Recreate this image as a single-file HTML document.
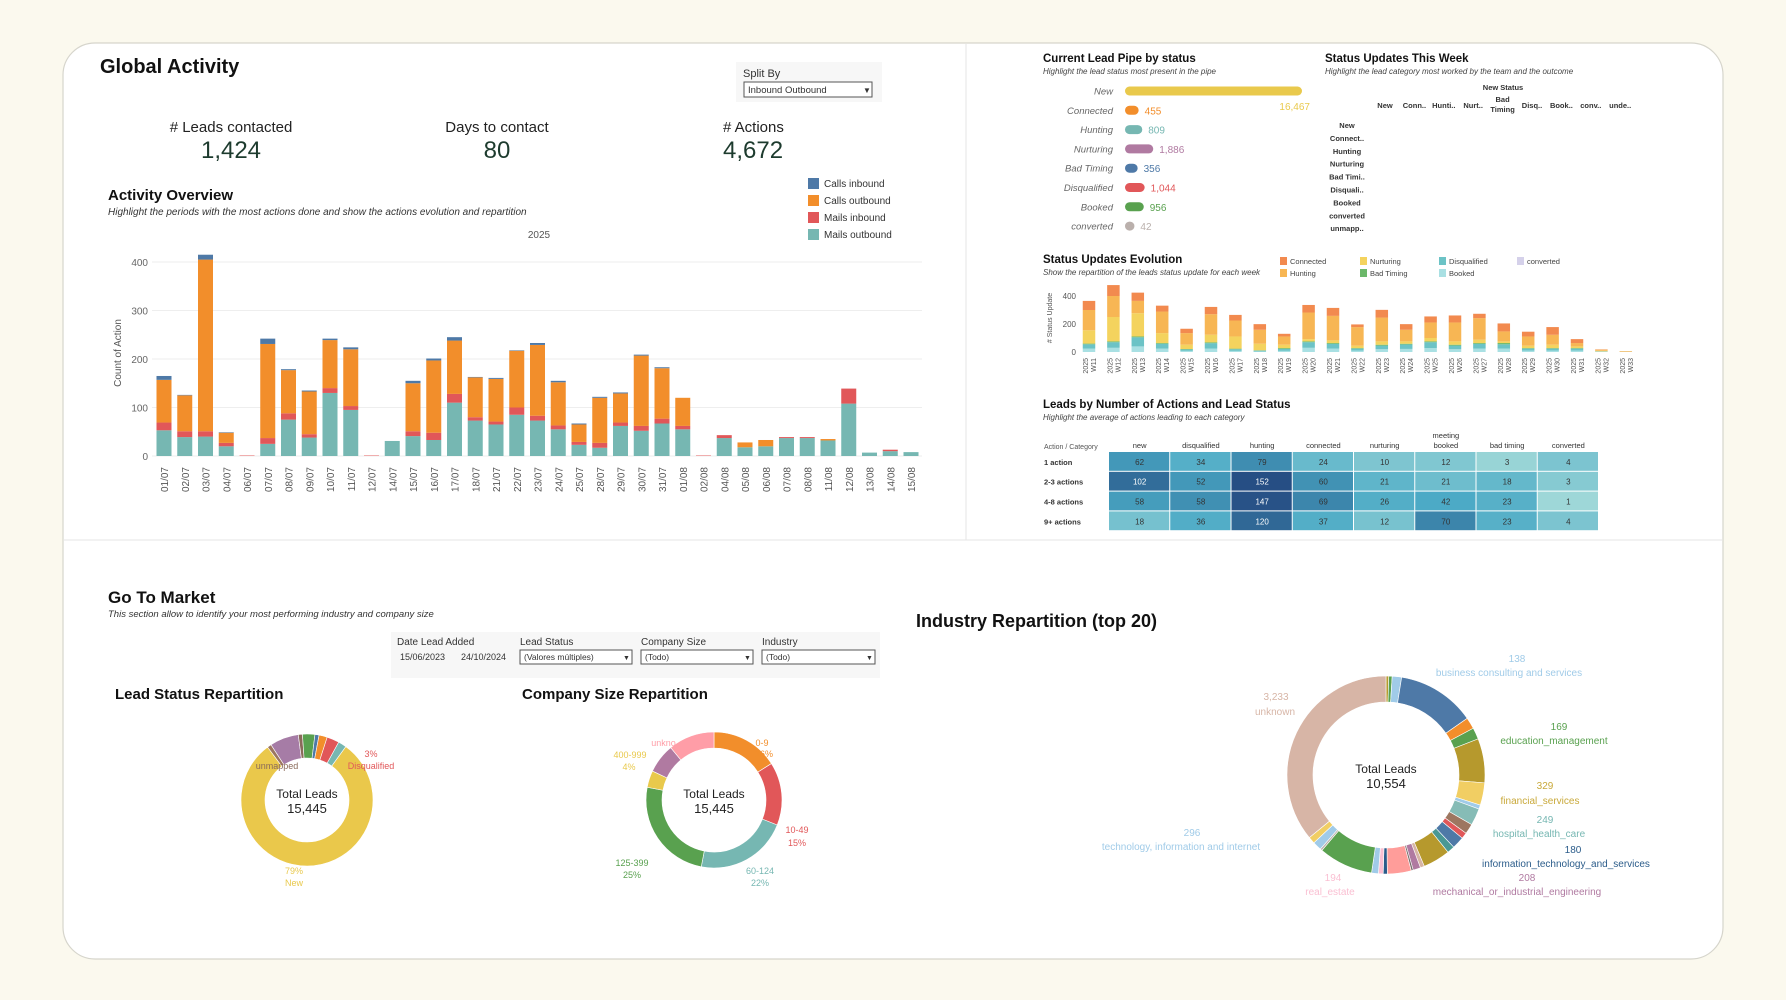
<!DOCTYPE html>
<html><head><meta charset="utf-8">
<style>
html,body{margin:0;padding:0;background:#fbf9ee;}
svg{display:block;font-family:"Liberation Sans",sans-serif;}
</style></head>
<body>
<svg id="root" width="1786" height="1000" viewBox="0 0 1786 1000" xmlns="http://www.w3.org/2000/svg">
<rect x="0" y="0" width="1786" height="1000" fill="#fbf9ee"/>
<rect x="63" y="43" width="1660" height="916" rx="32" fill="#ffffff" stroke="#d6d5cc" stroke-width="1.2"/>
<line x1="966" y1="44" x2="966" y2="540" stroke="#e6e6e6"/>
<line x1="64" y1="540" x2="1722" y2="540" stroke="#e6e6e6"/>

<text x="100" y="73" font-size="20" font-weight="bold" fill="#111">Global Activity</text>
<g>
<rect x="736" y="62" width="146" height="40" fill="#f7f7f7"/>
<text x="743" y="77" font-size="11" fill="#333">Split By</text>
<rect x="744" y="82" width="128" height="15" fill="#fff" stroke="#555"/>
<text x="748" y="93" font-size="9.5" fill="#333">Inbound Outbound</text>
<text x="863" y="93" font-size="8" fill="#333">▼</text>
</g>
<g>
<text x="231" y="132" font-size="15" text-anchor="middle" fill="#222"># Leads contacted</text>
<text x="231" y="158" font-size="24" text-anchor="middle" fill="#1d3b2e">1,424</text>
</g>
<g>
<text x="497" y="132" font-size="15" text-anchor="middle" fill="#222">Days to contact</text>
<text x="497" y="158" font-size="24" text-anchor="middle" fill="#1d3b2e">80</text>
</g>
<g>
<text x="723" y="132" font-size="15" fill="#222"># Actions</text>
<text x="723" y="158" font-size="24" fill="#1d3b2e">4,672</text>
</g>
<text x="108" y="200" font-size="15" font-weight="bold" fill="#111">Activity Overview</text>
<text x="108" y="215" font-size="10" font-style="italic" fill="#333">Highlight the periods with the most actions done and show the actions evolution and repartition</text>
<text x="539" y="238" font-size="10" text-anchor="middle" fill="#555">2025</text>
<g id="activity"></g>
<g id="activityLegend"></g>

<text x="1043" y="62" font-size="11.5" font-weight="bold" fill="#111">Current Lead Pipe by status</text>
<text x="1043" y="74" font-size="8" font-style="italic" fill="#444">Highlight the lead status most present in the pipe</text>
<g id="pipe"></g>
<text x="1325" y="62" font-size="11.5" font-weight="bold" fill="#111">Status Updates This Week</text>
<text x="1325" y="74" font-size="8" font-style="italic" fill="#444">Highlight the lead category most worked by the team and the outcome</text>
<g id="weekTable"></g>

<text x="1043" y="263" font-size="11.5" font-weight="bold" fill="#111">Status Updates Evolution</text>
<text x="1043" y="275" font-size="8" font-style="italic" fill="#444">Show the repartition of the leads status update for each week</text>
<g id="evoLegend"></g>
<g id="evo"></g>

<text x="1043" y="408" font-size="11.5" font-weight="bold" fill="#111">Leads by Number of Actions and Lead Status</text>
<text x="1043" y="420" font-size="8" font-style="italic" fill="#444">Highlight the average of actions leading to each category</text>
<g id="heat"></g>

<text x="108" y="603" font-size="17" font-weight="bold" fill="#111">Go To Market</text>
<text x="108" y="617" font-size="9.5" font-style="italic" fill="#333">This section allow to identify your most performing industry and company size</text>
<g>
<rect x="391" y="632" width="489" height="46" fill="#f7f7f7"/>
<text x="397" y="645" font-size="10" fill="#333">Date Lead Added</text>
<text x="400" y="660" font-size="9" fill="#333">15/06/2023</text>
<text x="461" y="660" font-size="9" fill="#333">24/10/2024</text>
<text x="520" y="645" font-size="10" fill="#333">Lead Status</text>
<rect x="520" y="650" width="112" height="14" fill="#fff" stroke="#555"/>
<text x="524" y="660" font-size="8.5" fill="#333">(Valores múltiples)</text>
<text x="623" y="660" font-size="7" fill="#333">▼</text>
<text x="641" y="645" font-size="10" fill="#333">Company Size</text>
<rect x="641" y="650" width="112" height="14" fill="#fff" stroke="#555"/>
<text x="645" y="660" font-size="8.5" fill="#333">(Todo)</text>
<text x="744" y="660" font-size="7" fill="#333">▼</text>
<text x="762" y="645" font-size="10" fill="#333">Industry</text>
<rect x="762" y="650" width="113" height="14" fill="#fff" stroke="#555"/>
<text x="766" y="660" font-size="8.5" fill="#333">(Todo)</text>
<text x="866" y="660" font-size="7" fill="#333">▼</text>
</g>
<text x="115" y="699" font-size="15" font-weight="bold" fill="#111">Lead Status Repartition</text>
<text x="522" y="699" font-size="15" font-weight="bold" fill="#111">Company Size Repartition</text>
<text x="916" y="627" font-size="18" font-weight="bold" fill="#111">Industry Repartition (top 20)</text>
<g id="donut1"></g>
<g id="donut2"></g>
<g id="donut3"></g>
</svg>

<script>
const actDates = ["01/07","02/07","03/07","04/07","06/07","07/07","08/07","09/07","10/07","11/07","12/07","14/07","15/07","16/07","17/07","18/07","21/07","22/07","23/07","24/07","25/07","28/07","29/07","30/07","31/07","01/08","02/08","04/08","05/08","06/08","07/08","08/08","11/08","12/08","13/08","14/08","15/08"];
const mailsOutbound = [53,39,40,20,0,25,75,38,130,95,0,31,41,33,110,73,65,85,73,55,23,17,62,52,67,55,0,37,18,20,37,37,32,108,7,10,8];
const mailsInbound  = [16,12,11,7,1,12,13,7,10,8,1,0,10,15,18,7,6,15,10,8,6,10,7,10,10,7,1,6,0,0,2,2,0,31,0,3,0];
const callsOutbound = [88,74,354,21,0,194,89,88,99,117,0,0,99,149,110,82,88,117,146,89,36,93,60,145,104,58,0,0,10,13,0,0,3,0,0,0,0];
const callsInbound  = [8,1,10,1,0,11,2,2,3,4,0,0,5,4,7,1,2,1,4,3,2,2,2,2,2,0,0,0,0,0,0,0,0,0,0,0,0];
const actTicks = [0,100,200,300,400];
const actSeriesNames = ["Calls inbound","Calls outbound","Mails inbound","Mails outbound"];

const pipeStatus = ["New","Connected","Hunting","Nurturing","Bad Timing","Disqualified","Booked","converted"];
const pipeValues = [16467,455,809,1886,356,1044,956,42];
const pipeLabels = ["16,467","455","809","1,886","356","1,044","956","42"];

const weekCols = ["New","Conn..","Hunti..","Nurt..","Bad Timing","Disq..","Book..","conv..","unde.."];
const weekRows = ["New","Connect..","Hunting","Nurturing","Bad Timi..","Disquali..","Booked","converted","unmapp.."];

const weeks = ["W11","W12","W13","W14","W15","W16","W17","W18","W19","W20","W21","W22","W23","W24","W25","W26","W27","W28","W29","W30","W31","W32","W33"];
const evoBooked       = [25,30,40,25,8,25,8,4,8,30,25,10,20,22,28,20,25,25,10,10,10,2,0];
const evoDisqualified = [30,40,65,34,10,38,12,6,14,40,33,14,26,32,42,26,33,30,14,14,14,2,1];
const evoBadTiming    = [5,6,6,5,3,6,4,2,6,6,6,4,6,5,6,6,6,9,4,4,4,1,0];
const evoNurturing    = [95,174,166,71,31,54,87,47,24,16,19,17,24,17,24,24,24,12,17,24,12,4,2];
const evoHunting      = [145,150,88,154,83,147,114,100,59,190,175,133,170,83,111,135,154,71,66,71,24,8,3];
const evoConnected    = [65,78,59,42,31,52,40,40,19,54,57,19,55,40,43,50,31,57,34,55,28,2,1];
const evoConverted    = [0,0,0,0,0,0,0,0,0,0,0,0,0,0,0,0,0,0,0,0,0,0,0];
const evoTicks = [0,200,400];

const heatRows = ["1 action","2-3 actions","4-8 actions","9+ actions"];
const heatCols = ["new","disqualified","hunting","connected","nurturing","meeting booked","bad timing","converted"];
const heatR1 = [62,34,79,24,10,12,3,4];
const heatR2 = [102,52,152,60,21,21,18,3];
const heatR3 = [58,58,147,69,26,42,23,1];
const heatR4 = [18,36,120,37,12,70,23,4];

const leadStatusNames = ["New","unmapped","Nurturing","Bad Timing","Booked","Calls","Connected","Disqualified","Hunting"];
const leadStatusValues = [79,1,7,1,3,1,2,3,2];
const companySizeNames = ["0-9","10-49","60-124","125-399","400-999","1000+","unknown"];
const companySizeValues = [16,15,22,25,4,7,11];
const industryNames = ["i1","i2","business consulting and services","i4","i5","education_management","i7","financial_services","i9","hospital_health_care","i11","i12","information_technology_and_services","i14","mechanical_or_industrial_engineering","i16","i17","i18","real_estate","i20","i21","i22","technology, information and internet","i24","i25","i26","unknown"];
const industryValues = [40,50,138,1150,169,169,650,329,60,249,150,90,180,110,400,60,110,30,350,60,70,100,800,30,130,100,3233];

const NS = "http://www.w3.org/2000/svg";
function mk(tag, attrs, parent){ const e=document.createElementNS(NS,tag); for(const k in attrs) e.setAttribute(k,attrs[k]); parent.appendChild(e); return e; }

(function(){
  const g=document.getElementById('activity');
  const y0=456, yk=0.485, x0=164, step=20.75, bw=15;
  const yS=v=>y0-v*yk, xS=i=>x0+i*step;
  actTicks.forEach(t=>{
    const l=mk('line',{x1:152,x2:922,y1:yS(t),y2:yS(t),stroke:'#eeeeee'},g);
    
    
    const tx=mk('text',{x:148,y:yS(t)+4,'font-size':10,'text-anchor':'end',fill:'#666'},g);
    tx.textContent=t;
    
    
  });
  const yl=mk('text',{x:0,y:0,'font-size':10,'text-anchor':'middle',fill:'#555',transform:'translate(121,353) rotate(-90)'},g);
  yl.textContent='Count of Action';
  
  
  const series=[mailsOutbound,mailsInbound,callsOutbound,callsInbound];
  const cols=['#76b7b2','#e15759','#f28e2b','#4e79a7'];
  actDates.forEach((d,i)=>{
    let acc=0;
    series.forEach((s,k)=>{
      const v=s[i]; if(!v) return;
      const r=mk('rect',{x:xS(i)-bw/2,y:yS(acc+v),width:bw,height:v*yk,fill:cols[k]},g);
      
      
      acc+=v;
    });
    const t=mk('text',{x:0,y:0,'font-size':10,'text-anchor':'end',fill:'#555',transform:`translate(${xS(i)+4},467) rotate(-90)`},g);
    t.textContent=d;
    
    
  });
  const lg=document.getElementById('activityLegend');
  const lc=['#4e79a7','#f28e2b','#e15759','#76b7b2'];
  actSeriesNames.forEach((n,i)=>{
    const r=mk('rect',{x:808,y:178+i*17,width:11,height:11,fill:lc[i]},lg);
    
    
    const t=mk('text',{x:824,y:187+i*17,'font-size':10,fill:'#333'},lg);
    t.textContent=n;
    
    
  });
})();

(function(){
  const g=document.getElementById('pipe');
  const cols=['#e9c94c','#f28e2b','#76b7b2','#b07aa1','#4e79a7','#e15759','#59a14f','#bab0ac'];
  const h=9, x0=1125, maxW=177, sc=(maxW-h)/Math.max(...pipeValues);
  pipeStatus.forEach((s,i)=>{
    const y=91+i*19.3;
    const t=mk('text',{x:1113,y:y+3.5,'font-size':9.5,'font-style':'italic','text-anchor':'end',fill:'#666'},g);
    t.textContent=s;
    
    
    const w=h+pipeValues[i]*sc;
    const r=mk('rect',{x:x0,y:y-h/2,width:w,height:h,rx:h/2,fill:cols[i]},g);
    
    
    const vl = i===0 ? mk('text',{x:x0+w+8,y:y+19,'font-size':10,'text-anchor':'end',fill:cols[i]},g)
                     : mk('text',{x:x0+w+6,y:y+4,'font-size':10,fill:cols[i]},g);
    vl.textContent=pipeLabels[i];
    
    
  });
})();

(function(){
  const g=document.getElementById('weekTable');
  const hd=mk('text',{x:1503,y:90,'font-size':7.5,'font-weight':'bold','text-anchor':'middle',fill:'#333'},g);
  hd.textContent='New Status';
  
  
  weekCols.forEach((c,i)=>{
    const x=1385+i*29.4;
    if(c==='Bad Timing'){
      ['Bad','Timing'].forEach((p,k)=>{
        const t=mk('text',{x:x,y:102+k*10,'font-size':7.5,'font-weight':'bold','text-anchor':'middle',fill:'#333'},g);
        t.textContent=p;
        
        
      });
    } else {
      const t=mk('text',{x:x,y:108,'font-size':7.5,'font-weight':'bold','text-anchor':'middle',fill:'#333'},g);
      t.textContent=c;
      
      
    }
  });
  weekRows.forEach((r,i)=>{
    const t=mk('text',{x:1347,y:128+i*12.9,'font-size':7.5,'font-weight':'bold','text-anchor':'middle',fill:'#333'},g);
    t.textContent=r;
    
    
  });
})();

(function(){
  const g=document.getElementById('evo');
  const y0=352, yk=0.14, x0=1089, step=24.4, bw=12.5;
  const yS=v=>y0-v*yk, xS=i=>x0+i*step;
  evoTicks.forEach(t=>{
    const tx=mk('text',{x:1076,y:yS(t)+3,'font-size':8,'text-anchor':'end',fill:'#555'},g);
    tx.textContent=t;
    
    
  });
  const yl=mk('text',{x:0,y:0,'font-size':7,'text-anchor':'middle',fill:'#555',transform:'translate(1052,318) rotate(-90)'},g);
  yl.textContent='# Status Update';
  
  
  const series=[evoBooked,evoDisqualified,evoBadTiming,evoNurturing,evoHunting,evoConnected,evoConverted];
  const cols=['#a9e0e3','#6cc3c6','#6cb86a','#f4d35e','#f7b654','#f28a4f','#d5d1ea'];
  weeks.forEach((w,i)=>{
    let acc=0;
    series.forEach((s,k)=>{
      const v=s[i]; if(!v) return;
      const r=mk('rect',{x:xS(i)-bw/2,y:yS(acc+v),width:bw,height:v*yk,fill:cols[k]},g);
      
      
      acc+=v;
    });
    const t=mk('text',{x:0,y:0,'font-size':7,'text-anchor':'end',fill:'#555',transform:`translate(${xS(i)-1},358) rotate(-90)`},g);
    t.textContent='2025';
    
    
    const t2=mk('text',{x:0,y:0,'font-size':7,'text-anchor':'end',fill:'#555',transform:`translate(${xS(i)+7},358) rotate(-90)`},g);
    t2.textContent=w;
    
    
  });
  const lg=document.getElementById('evoLegend');
  const names=[["Connected",'#f28a4f'],["Hunting",'#f7b654'],["Nurturing",'#f4d35e'],["Bad Timing",'#6cb86a'],["Disqualified",'#6cc3c6'],["Booked",'#a9e0e3'],["converted",'#d5d1ea']];
  const lx=[1280,1360,1439,1517];
  names.forEach((n,i)=>{
    const col=Math.floor(i/2), row=i%2;
    const r=mk('rect',{x:lx[col],y:257+row*12,width:7,height:8,fill:n[1]},lg);
    
    
    const t=mk('text',{x:lx[col]+10,y:264+row*12,'font-size':7.5,fill:'#444'},lg);
    t.textContent=n[0];
    
    
  });
})();

(function(){
  const g=document.getElementById('heat');
  const data=[heatR1,heatR2,heatR3,heatR4];
  const x0=1109, cw=61.25, y0=452, rh=19.8;
  const colMax=heatCols.map((c,j)=>Math.max(...data.map(r=>r[j])));
  const gMax=Math.max(...data.flat());
  const lerp=(a,b,t)=>a.map((v,i)=>Math.round(v+(b[i]-v)*t));
  const L=[178,226,220], M=[74,169,197], D=[38,78,132];
  function color(t){ const c = t<0.55? lerp(L,M,t/0.55) : lerp(M,D,(t-0.55)/0.45); return `rgb(${c[0]},${c[1]},${c[2]})`; }
  const ac=mk('text',{x:1044,y:449,'font-size':7,fill:'#555'},g);
  ac.textContent='Action / Category';
  
  
  heatCols.forEach((c,j)=>{
    const cx=x0+cw*(j+0.5);
    if(c==='meeting booked'){
      ['meeting','booked'].forEach((p,k)=>{
        const t=mk('text',{x:cx,y:438+k*10,'font-size':7.5,'text-anchor':'middle',fill:'#333'},g);
        t.textContent=p;
        
        
      });
    } else {
      const t=mk('text',{x:cx,y:448,'font-size':7.5,'text-anchor':'middle',fill:'#333'},g);
      t.textContent=c;
      
      
    }
  });
  data.forEach((row,i)=>{
    const rl=mk('text',{x:1044,y:y0+rh*i+rh/2+3,'font-size':7.5,'font-weight':'bold',fill:'#333'},g);
    rl.textContent=heatRows[i];
    
    
    row.forEach((v,j)=>{
      const t=Math.min(1,0.85*Math.sqrt(v/gMax)+0.15*v/colMax[j]);
      const r=mk('rect',{x:x0+cw*j,y:y0+rh*i,width:cw-1,height:rh-1,fill:color(t)},g);
      
      
      const tx=mk('text',{x:x0+cw*j+cw/2,y:y0+rh*i+rh/2+3,'font-size':8,'text-anchor':'middle',fill:t>0.8?'#fff':'#333'},g);
      tx.textContent=v;
      
      
    });
  });
})();

function arcPath(cx,cy,ro,ri,a0,a1){
  const p=(r,a)=>[cx+r*Math.sin(a*Math.PI/180), cy-r*Math.cos(a*Math.PI/180)];
  const lg=(a1-a0)>180?1:0;
  const [x1,y1]=p(ro,a0),[x2,y2]=p(ro,a1),[x3,y3]=p(ri,a1),[x4,y4]=p(ri,a0);
  return `M${x1},${y1}A${ro},${ro} 0 ${lg} 1 ${x2},${y2}L${x3},${y3}A${ri},${ri} 0 ${lg} 0 ${x4},${y4}Z`;
}
function donut(id,cx,cy,ro,ri,values,colors,start,name,total){
  const g=document.getElementById(id);
  const sum=values.reduce((a,b)=>a+b,0);
  let a=start;
  values.forEach((v,i)=>{
    const da=v/sum*360;
    const p=mk('path',{d:arcPath(cx,cy,ro,ri,a,a+da),fill:colors[i],stroke:'#fff','stroke-width':0.6},g);
    
    
    a+=da;
  });
  const t1=mk('text',{x:cx,y:cy-2,'font-size':12,'text-anchor':'middle',fill:'#222'},g);
  t1.textContent='Total Leads';
  
  
  const t2=mk('text',{x:cx,y:cy+13,'font-size':13,'text-anchor':'middle',fill:'#222'},g);
  t2.textContent=total;
  
  
  return g;
}
function label(g,x,y,txt,col,size,name){
  const t=mk('text',{x:x,y:y,'font-size':size||9,'text-anchor':'middle',fill:col},g);
  t.textContent=txt;
  
  
}
(function(){
  const g1=donut('donut1',307,800,66,42,leadStatusValues,['#eac84b','#9d7660','#a67ca6','#8a6a5a','#59a14f','#4e79a7','#f28e2b','#e15759','#76b7b2'],36,'lead-status','15,445');
  label(g1,371,757,'3%','#e15759',9,'slice-label');
  label(g1,371,769,'Disqualified','#e15759',9,'slice-label');
  label(g1,277,769,'unmapped','#8a6a5a',9,'slice-label');
  label(g1,294,874,'79%','#e9c94c',9,'slice-label');
  label(g1,294,886,'New','#e9c94c',9,'slice-label');

  const g2=donut('donut2',714,800,68,52,companySizeValues,['#f28e2b','#e15759','#76b7b2','#59a14f','#e9c94c','#b07aa1','#ff9da7'],0,'company-size','15,445');
  label(g2,762,746,'0-9','#f28e2b',9,'slice-label');
  label(g2,764,757,'16%','#f28e2b',9,'slice-label');
  label(g2,666,746,'unkno..','#ff9da7',9,'slice-label');
  label(g2,630,758,'400-999','#e9c94c',9,'slice-label');
  label(g2,629,770,'4%','#e9c94c',9,'slice-label');
  label(g2,797,833,'10-49','#e15759',9,'slice-label');
  label(g2,797,846,'15%','#e15759',9,'slice-label');
  label(g2,760,874,'60-124','#76b7b2',9,'slice-label');
  label(g2,760,886,'22%','#76b7b2',9,'slice-label');
  label(g2,632,866,'125-399','#59a14f',9,'slice-label');
  label(g2,632,878,'25%','#59a14f',9,'slice-label');

  const ic=['#b6992d','#59a14f','#a0cbe8','#4e79a7','#f28e2b','#59a14f','#b6992d','#f1ce63','#a0cbe8','#86bcb6','#9d7660','#e15759','#4e79a7','#499894','#b6992d','#d7b5a6','#b07aa1','#79706e','#ff9d9a','#2b5c8a','#fabfd2','#a0cbe8','#59a14f','#bab0ac','#a0cbe8','#f1ce63','#d7b5a6'];
  const g3=donut('donut3',1386,775,99,73,industryValues,ic,0,'industry','10,554');
  label(g3,1517,662,'138','#a0cbe8',10,'industry-label');
  label(g3,1509,676,'business consulting and services','#a0cbe8',10,'industry-label');
  label(g3,1559,730,'169','#59a14f',10,'industry-label');
  label(g3,1554,744,'education_management','#59a14f',10,'industry-label');
  label(g3,1545,789,'329','#c9a93a',10,'industry-label');
  label(g3,1540,804,'financial_services','#c9a93a',10,'industry-label');
  label(g3,1545,823,'249','#76b7b2',10,'industry-label');
  label(g3,1539,837,'hospital_health_care','#76b7b2',10,'industry-label');
  label(g3,1573,853,'180','#2b5c8a',10,'industry-label');
  label(g3,1566,867,'information_technology_and_services','#2b5c8a',10,'industry-label');
  label(g3,1527,881,'208','#b07aa1',10,'industry-label');
  label(g3,1517,895,'mechanical_or_industrial_engineering','#b07aa1',10,'industry-label');
  label(g3,1333,881,'194','#fabfd2',10,'industry-label');
  label(g3,1330,895,'real_estate','#fabfd2',10,'industry-label');
  label(g3,1192,836,'296','#a0cbe8',10,'industry-label');
  label(g3,1181,850,'technology, information and internet','#a0cbe8',10,'industry-label');
  label(g3,1276,700,'3,233','#d7b5a6',10,'industry-label');
  label(g3,1275,715,'unknown','#d7b5a6',10,'industry-label');
})();
</script>
</body></html>
